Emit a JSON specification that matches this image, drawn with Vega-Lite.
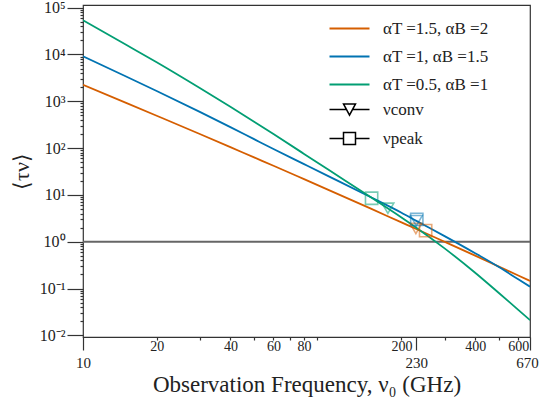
{
  "$schema": "https://vega.github.io/schema/vega-lite/v6.json",
  "width": 447,
  "height": 332,
  "autosize": {"type": "none"},
  "padding": {"left": 83, "top": 5, "right": 10, "bottom": 65},
  "background": "white",
  "config": {
    "view": {"stroke": "#333", "strokeWidth": 1.2},
    "font": "Liberation Serif",
    "legend": {"padding": 0}
  },
  "datasets": {
    "curves": [
      {"s": "αT =1.5, αB =2", "f": 10, "t": 2239},
      {"s": "αT =1.5, αB =2", "f": 15, "t": 925},
      {"s": "αT =1.5, αB =2", "f": 20, "t": 491},
      {"s": "αT =1.5, αB =2", "f": 30, "t": 200},
      {"s": "αT =1.5, αB =2", "f": 40, "t": 104.7},
      {"s": "αT =1.5, αB =2", "f": 50, "t": 63.2},
      {"s": "αT =1.5, αB =2", "f": 60, "t": 41.9},
      {"s": "αT =1.5, αB =2", "f": 80, "t": 21.7},
      {"s": "αT =1.5, αB =2", "f": 100, "t": 13.0},
      {"s": "αT =1.5, αB =2", "f": 150, "t": 5.08},
      {"s": "αT =1.5, αB =2", "f": 200, "t": 2.59},
      {"s": "αT =1.5, αB =2", "f": 230, "t": 1.87},
      {"s": "αT =1.5, αB =2", "f": 300, "t": 0.998},
      {"s": "αT =1.5, αB =2", "f": 400, "t": 0.504},
      {"s": "αT =1.5, αB =2", "f": 500, "t": 0.295},
      {"s": "αT =1.5, αB =2", "f": 600, "t": 0.1905},
      {"s": "αT =1.5, αB =2", "f": 670, "t": 0.146},
      {"s": "αT =1, αB =1.5", "f": 10, "t": 9162},
      {"s": "αT =1, αB =1.5", "f": 15, "t": 3381},
      {"s": "αT =1, αB =1.5", "f": 20, "t": 1656},
      {"s": "αT =1, αB =1.5", "f": 30, "t": 594},
      {"s": "αT =1, αB =1.5", "f": 40, "t": 281},
      {"s": "αT =1, αB =1.5", "f": 50, "t": 155},
      {"s": "αT =1, αB =1.5", "f": 60, "t": 95.5},
      {"s": "αT =1, αB =1.5", "f": 80, "t": 45.4},
      {"s": "αT =1, αB =1.5", "f": 100, "t": 25.5},
      {"s": "αT =1, αB =1.5", "f": 150, "t": 8.91},
      {"s": "αT =1, αB =1.5", "f": 200, "t": 4.17},
      {"s": "αT =1, αB =1.5", "f": 230, "t": 2.79},
      {"s": "αT =1, αB =1.5", "f": 300, "t": 1.32},
      {"s": "αT =1, αB =1.5", "f": 400, "t": 0.569},
      {"s": "αT =1, αB =1.5", "f": 500, "t": 0.288},
      {"s": "αT =1, αB =1.5", "f": 600, "t": 0.158},
      {"s": "αT =1, αB =1.5", "f": 670, "t": 0.110},
      {"s": "αT =0.5, αB =1", "f": 10, "t": 53580},
      {"s": "αT =0.5, αB =1", "f": 15, "t": 16070},
      {"s": "αT =0.5, αB =1", "f": 20, "t": 6792},
      {"s": "αT =0.5, αB =1", "f": 30, "t": 1914},
      {"s": "αT =0.5, αB =1", "f": 40, "t": 760},
      {"s": "αT =0.5, αB =1", "f": 50, "t": 366},
      {"s": "αT =0.5, αB =1", "f": 60, "t": 199},
      {"s": "αT =0.5, αB =1", "f": 80, "t": 75.2},
      {"s": "αT =0.5, αB =1", "f": 100, "t": 35.2},
      {"s": "αT =0.5, αB =1", "f": 150, "t": 8.91},
      {"s": "αT =0.5, αB =1", "f": 200, "t": 3.31},
      {"s": "αT =0.5, αB =1", "f": 230, "t": 2.00},
      {"s": "αT =0.5, αB =1", "f": 300, "t": 0.723},
      {"s": "αT =0.5, αB =1", "f": 400, "t": 0.218},
      {"s": "αT =0.5, αB =1", "f": 500, "t": 0.0805},
      {"s": "αT =0.5, αB =1", "f": 600, "t": 0.0352},
      {"s": "αT =0.5, αB =1", "f": 670, "t": 0.0212}
    ],
    "markers": [
      {"s": "αT =1.5, αB =2", "m": "conv", "f": 229, "t": 1.92},
      {"s": "αT =1.5, αB =2", "m": "peak", "f": 251, "t": 1.73},
      {"s": "αT =1, αB =1.5", "m": "conv", "f": 230, "t": 2.82},
      {"s": "αT =1, αB =1.5", "m": "peak", "f": 231, "t": 3.0},
      {"s": "αT =0.5, αB =1", "m": "conv", "f": 176, "t": 5.2},
      {"s": "αT =0.5, αB =1", "m": "peak", "f": 151, "t": 8.5}
    ]
  },
  "layer": [
    {
      "data": {"values": [{"y": 1}]},
      "mark": {"type": "rule", "color": "#666", "strokeWidth": 2},
      "encoding": {"y": {"field": "y", "type": "quantitative"}}
    },
    {
      "data": {"name": "curves"},
      "mark": {"type": "line", "strokeWidth": 1.8, "interpolate": "monotone", "clip": true},
      "encoding": {
        "x": {
          "field": "f", "type": "quantitative",
          "scale": {"type": "log", "domain": [10, 670], "nice": false},
          "title": "Observation Frequency, ν₀ (GHz)",
          "axis": {
            "values": [10, 20, 30, 40, 50, 60, 70, 80, 90, 200, 230, 300, 400, 500, 600, 670],
            "labelExpr": "indexof([30,50,70,90,300,500], datum.value) >= 0 ? '' : format(datum.value, 'd')",
            "tickSize": {"condition": {"test": "datum.value == 10 || datum.value == 230 || datum.value == 670", "value": 13}, "value": 3},
            "labelPadding": {"condition": {"test": "datum.value == 10 || datum.value == 230 || datum.value == 670", "value": 5}, "value": -1},
            "labelFontSize": {"condition": {"test": "datum.value == 10 || datum.value == 230 || datum.value == 670", "value": 15}, "value": 14},
            "labelOffset": {"condition": {"test": "datum.value == 670", "value": -3}, "value": 0},
            "labelOverlap": false,
            "labelFlush": false,
            "labelBound": false,
            "grid": false,
            "domain": false,
            "tickColor": "#333",
            "tickWidth": 1.2,
            "labelColor": "#222",
            "labelFont": "Liberation Serif",
            "titleFont": "Liberation Serif",
            "titleFontSize": 23,
            "titleFontWeight": "normal",
            "titleColor": "#222",
            "titlePadding": 3
          }
        },
        "y": {
          "field": "t", "type": "quantitative",
          "scale": {"type": "log", "domain": [0.00925, 113600], "nice": false},
          "title": "⟨τν⟩",
          "axis": {
            "values": [0.01,0.02,0.03,0.04,0.05,0.06,0.07,0.08,0.09,0.1,0.2,0.3,0.4,0.5,0.6,0.7,0.8,0.9,1,2,3,4,5,6,7,8,9,10,20,30,40,50,60,70,80,90,100,200,300,400,500,600,700,800,900,1000,2000,3000,4000,5000,6000,7000,8000,9000,10000,20000,30000,40000,50000,60000,70000,80000,90000,100000],
            "labelExpr": "datum.value == 100000 ? '10⁵' : datum.value == 10000 ? '10⁴' : datum.value == 1000 ? '10³' : datum.value == 100 ? '10²' : datum.value == 10 ? '10¹' : datum.value == 1 ? '10⁰' : datum.value == 0.1 ? '10⁻¹' : datum.value == 0.01 ? '10⁻²' : ''",
            "tickSize": {"condition": {"test": "indexof([0.01,0.1,1,10,100,1000,10000,100000], datum.value) >= 0", "value": 16}, "value": 3},
            "labelPadding": 2,
            "labelFontSize": 16,
            "labelOverlap": false,
            "labelFlush": false,
            "labelBound": false,
            "grid": false,
            "domain": false,
            "tickColor": "#333",
            "tickWidth": 1.2,
            "labelColor": "#222",
            "labelFont": "Liberation Serif",
            "titleFont": "Liberation Serif",
            "titleFontSize": 22,
            "titleFontWeight": "normal",
            "titleColor": "#222",
            "titlePadding": 6
          }
        },
        "color": {
          "field": "s", "type": "nominal",
          "scale": {"domain": ["αT =1.5, αB =2", "αT =1, αB =1.5", "αT =0.5, αB =1"], "range": ["#d55e00", "#0173b2", "#029e73"]},
          "legend": {
            "title": null,
            "orient": "none",
            "legendX": 258,
            "legendY": 15,
            "symbolType": "M-2.857,0H2.857",
            "symbolSize": 196,
            "symbolStrokeWidth": 1.8,
            "labelFont": "Liberation Serif",
            "labelFontSize": 17,
            "labelColor": "#222",
            "labelOffset": 25,
            "rowPadding": 10
          }
        }
      }
    },
    {
      "data": {"name": "markers"},
      "transform": [{"filter": "datum.m == 'conv'"}],
      "mark": {"type": "point", "shape": "triangle-down", "filled": false, "size": 140, "strokeWidth": 1.6, "strokeOpacity": 0.75},
      "encoding": {
        "x": {"field": "f", "type": "quantitative"},
        "y": {"field": "t", "type": "quantitative"},
        "stroke": {"field": "s", "type": "nominal", "scale": {"domain": ["αT =1.5, αB =2", "αT =1, αB =1.5", "αT =0.5, αB =1"], "range": ["#d55e00", "#0173b2", "#029e73"]}, "legend": null}
      }
    },
    {
      "data": {"name": "markers"},
      "transform": [{"filter": "datum.m == 'peak'"}],
      "mark": {"type": "point", "shape": "square", "filled": false, "size": 150, "strokeWidth": 1.6, "strokeOpacity": 0.75},
      "encoding": {
        "x": {"field": "f", "type": "quantitative"},
        "y": {"field": "t", "type": "quantitative"},
        "stroke": {"field": "s", "type": "nominal", "legend": null}
      }
    },
    {
      "data": {"name": "markers"},
      "mark": {"type": "point", "filled": false, "color": "black", "strokeWidth": 1.5, "opacity": 0},
      "encoding": {
        "x": {"field": "f", "type": "quantitative"},
        "y": {"field": "t", "type": "quantitative"},
        "shape": {
          "field": "m", "type": "nominal",
          "scale": {"domain": ["conv", "peak"], "range": ["M-2.857,0H-0.43M0.43,0H2.857M-0.857,-0.8H0.857L0,0.8Z", "M-2.857,0H-0.857M0.857,0H2.857M-0.857,-0.857H0.857V0.857H-0.857Z"]},
          "legend": {
            "title": null,
            "orient": "none",
            "legendX": 258,
            "legendY": 96,
            "symbolSize": 196,
            "symbolStrokeWidth": 1.5,
            "symbolStrokeColor": "black",
            "symbolFillColor": "white",
            "symbolOpacity": 1,
            "labelExpr": "datum.value == 'conv' ? 'νconv' : 'νpeak'",
            "labelFont": "Liberation Serif",
            "labelFontSize": 17,
            "labelColor": "#222",
            "labelOffset": 25,
            "rowPadding": 10
          }
        }
      }
    }
  ]
}
